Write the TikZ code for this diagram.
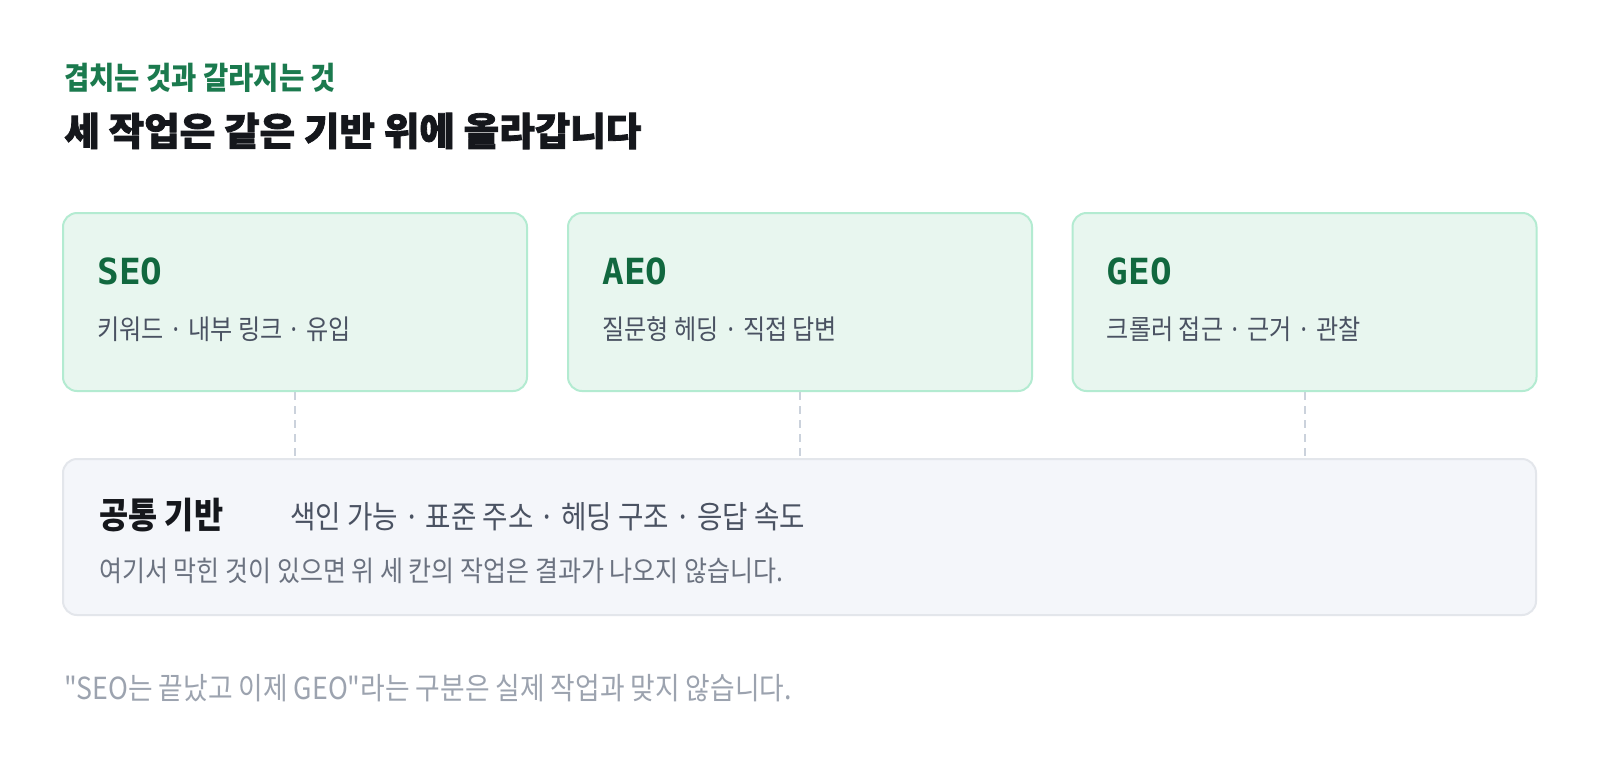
\documentclass[tikz,border=0pt]{standalone}
\usepackage{fontspec}
\setmonofont{DejaVu Sans Mono}
\newfontfamily\krfont[FakeStretch=0.88]{Noto Sans CJK KR}
\newfontfamily\krhead[BoldFeatures={FakeBold=2}]{Noto Sans CJK KR}
\usetikzlibrary{positioning}

\definecolor{leaf}{HTML}{1B7A4E}
\definecolor{leafdark}{HTML}{11683F}
\definecolor{ink}{HTML}{15171C}
\definecolor{slate}{HTML}{4A5262}
\definecolor{mist}{HTML}{6B7280}
\definecolor{haze}{HTML}{9CA3AF}
\definecolor{mintfill}{HTML}{E8F6EF}
\definecolor{mintedge}{HTML}{B3EBD1}
\definecolor{basefill}{HTML}{F4F6FA}
\definecolor{baseedge}{HTML}{E3E6EB}
\definecolor{dashgray}{HTML}{CBD2DC}

\tikzset{
  eyebrowtext/.style={anchor=west, inner sep=0, text=leaf, font=\krfont\bfseries\fontsize{15.6pt}{17pt}\selectfont},
  titletext/.style={anchor=west, inner sep=0, text=ink, font=\krhead\bfseries\fontsize{19.3pt}{21pt}\selectfont},
  cardbox/.style={draw=mintedge, fill=mintfill, line width=1pt, rounded corners=7pt, minimum width=232pt, minimum height=89pt, inner sep=0},
  cardtag/.style={anchor=west, inner sep=0, text=leafdark, font=\ttfamily\bfseries\fontsize{18pt}{20pt}\selectfont},
  cardsub/.style={anchor=west, inner sep=0, text=slate, font=\krfont\fontsize{13.7pt}{15pt}\selectfont},
  basebox/.style={draw=baseedge, fill=basefill, line width=1pt, rounded corners=7pt, minimum width=736.5pt, minimum height=78pt, inner sep=0},
  basehead/.style={anchor=west, inner sep=0, text=ink, font=\krfont\bfseries\fontsize{18pt}{20pt}\selectfont},
  baseitems/.style={inner sep=0, text=slate, font=\krfont\fontsize{15.7pt}{17pt}\selectfont},
  basenote/.style={anchor=west, inner sep=0, text=mist, font=\krfont\fontsize{14.2pt}{16pt}\selectfont},
  foottext/.style={anchor=west, inner sep=0, text=haze, font=\krfont\fontsize{15.2pt}{17pt}\selectfont},
  link/.style={draw=dashgray, line width=1pt, dash pattern=on 4pt off 3pt}
}

\begin{document}
\begin{tikzpicture}[x=0.5pt, y=-0.5pt]

\fill[white] (0,0) rectangle (1600,762);
\useasboundingbox (0,0) rectangle (1600,762);

\node[eyebrowtext] (eyebrow) at (64,78) {겹치는 것과 갈라지는 것};
\node[titletext] (title) at (64,131) {세 작업은 같은 기반 위에 올라갑니다};

\node[basebox] (base) at (799.5,537) {};

\foreach \name/\tag/\items/\x in {seo/SEO/{키워드 · 내부 링크 · 유입}/295, aeo/AEO/{질문형 헤딩 · 직접 답변}/800, geo/GEO/{크롤러 접근 · 근거 · 관찰}/1304.5} {
    \node[cardbox] (\name) at (\x,302) {};
    \node[cardtag] (\name-tag) at ([shift={(35,59)}]\name.north west) {\tag};
    \node[cardsub] (\name-sub) at ([shift={(35,117)}]\name.north west) {\items};
    \draw[link] (\name.south) -- (\name.south |- base.north);
}

\node[basehead] (basehead) at ([shift={(37,57)}]base.north west) {공통 기반};
\node[baseitems, base right=33pt of basehead] (baseitems) {색인 가능 · 표준 주소 · 헤딩 구조 · 응답 속도};
\node[basenote] (basenote) at ([shift={(37,113)}]base.north west) {여기서 막힌 것이 있으면 위 세 칸의 작업은 결과가 나오지 않습니다.};

\node[foottext] (foot) at (64,688) {"SEO는 끝났고 이제 GEO"라는 구분은 실제 작업과 맞지 않습니다.};

\end{tikzpicture}
\end{document}
